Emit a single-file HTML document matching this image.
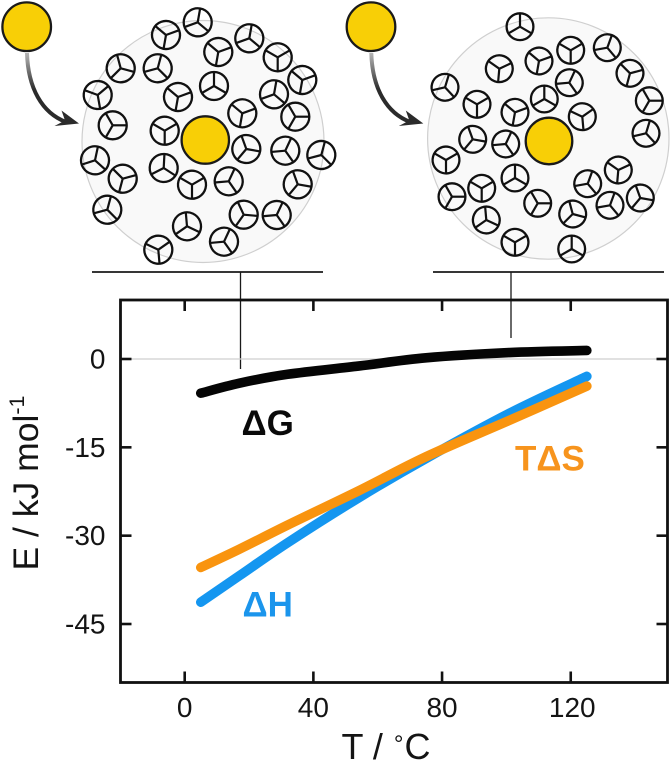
<!DOCTYPE html>
<html lang="en">
<head>
<meta charset="utf-8">
<title>Thermodynamics of binding versus temperature</title>
<style>
html,body{margin:0;padding:0;background:#fff;width:670px;height:761px;overflow:hidden}
svg{display:block}
text{font-family:"Liberation Sans",sans-serif;fill:#141414}
</style>
</head>
<body>
<svg id="fig" width="670" height="761" viewBox="0 0 670 761" xmlns="http://www.w3.org/2000/svg">
  <defs>
    <linearGradient id="arrowFade" gradientUnits="userSpaceOnUse" x1="0" y1="53" x2="0" y2="90">
      <stop offset="0" stop-color="#b5b5b5"/>
      <stop offset="1" stop-color="#2b2b2b"/>
    </linearGradient>
  </defs>
  <g id="diagrams"></g>

  <g stroke="#1a1a1a" fill="none">
    <line x1="92" y1="272" x2="323" y2="272" stroke-width="1.8"/>
    <line x1="240.5" y1="272" x2="240.5" y2="369" stroke-width="1.3"/>
  </g>
  <g stroke="#1a1a1a" fill="none">
    <line x1="433" y1="272" x2="664" y2="272" stroke-width="1.8"/>
    <line x1="511" y1="272" x2="511" y2="338" stroke-width="1.3"/>
  </g>

  <g id="chart"></g>

  <text x="241.5" y="435" font-size="35" font-weight="700" style="fill:#0a0a0a">ΔG</text>
  <text x="242.5" y="616.5" font-size="35" font-weight="700" style="fill:#1b95ec">ΔH</text>
  <text x="515" y="470.5" font-size="35" font-weight="700" style="fill:#f7941d">TΔS</text>

  <text x="341.5" y="759" font-size="36">T / <tspan font-size="24" dx="1" dy="-7">°</tspan><tspan dx="1" dy="7">C</tspan></text>
  <text transform="translate(38,570.5) rotate(-90)" font-size="35.5">E / kJ mol<tspan font-size="21.5" dy="-14">-1</tspan></text>
</svg>

<script>
/* Chart data */
const temperatures = [5, 17, 32, 54, 75, 101, 125];
const deltaG = [-5.8, -4.1, -2.6, -1.2, 0.2, 1.1, 1.45];
const deltaH = [-41.3, -36.8, -31.2, -23.6, -16.9, -9.2, -2.95];
const tDeltaS = [-35.4, -32.3, -28.2, -22.4, -16.6, -10.4, -4.6];
const xTickLabels = [0, 40, 80, 120];
const yTickLabels = [0, -15, -30, -45];

const NS = 'http://www.w3.org/2000/svg';
const frame = {left: 120.5, right: 667.5, top: 300, bottom: 682.5};
function xAxis(t) { return 184.7 + t * 3.217; }
function yAxis(v) { return 359 - v * 5.889; }

function svgEl(tag, attrs, parent) {
  const el = document.createElementNS(NS, tag);
  for (const k in attrs) el.setAttribute(k, attrs[k]);
  parent.appendChild(el);
  return el;
}

const chart = document.getElementById('chart');

const zeroLine = svgEl('line', {x1: frame.left, x2: frame.right, y1: yAxis(0), y2: yAxis(0), stroke: '#cfcfcf', 'stroke-width': 1.2}, chart);



/* Smooth curve through the data points (Catmull-Rom converted to cubic Beziers) */
function smoothPath(values) {
  const p = temperatures.map(function (t, i) { return [xAxis(t), yAxis(values[i])]; });
  let d = 'M' + p[0][0].toFixed(2) + ',' + p[0][1].toFixed(2);
  for (let i = 0; i < p.length - 1; i++) {
    const a = p[Math.max(i - 1, 0)], b = p[i], c = p[i + 1], e = p[Math.min(i + 2, p.length - 1)];
    const c1x = b[0] + (c[0] - a[0]) / 6, c1y = b[1] + (c[1] - a[1]) / 6;
    const c2x = c[0] - (e[0] - b[0]) / 6, c2y = c[1] - (e[1] - b[1]) / 6;
    d += 'C' + c1x.toFixed(2) + ',' + c1y.toFixed(2) + ' ' + c2x.toFixed(2) + ',' + c2y.toFixed(2) + ' ' + c[0].toFixed(2) + ',' + c[1].toFixed(2);
  }
  return d;
}

function drawSeries(name, values, color) {
  const line = svgEl('path', {d: smoothPath(values), fill: 'none', stroke: color, 'stroke-width': 9.6, 'stroke-linecap': 'round', 'stroke-linejoin': 'round'}, chart);
  
  
}
drawSeries('delta-g-line', deltaG, '#050505');
drawSeries('delta-h-line', deltaH, '#1496f0');
drawSeries('t-delta-s-line', tDeltaS, '#f9940f');

const plotFrame = svgEl('rect', {x: frame.left, y: frame.top, width: frame.right - frame.left, height: frame.bottom - frame.top, fill: 'none', stroke: '#111', 'stroke-width': 2.8}, chart);



xTickLabels.forEach(function (t) {
  const x = xAxis(t);
  const bottomTick = svgEl('line', {x1: x, x2: x, y1: frame.bottom, y2: frame.bottom - 11, stroke: '#111', 'stroke-width': 2.6}, chart);
  
  
  const topTick = svgEl('line', {x1: x, x2: x, y1: frame.top, y2: frame.top + 11, stroke: '#111', 'stroke-width': 2.6}, chart);
  
  
  const label = svgEl('text', {x: x + (t >= 100 ? 1.5 : 0), y: 717, 'font-size': 28, 'text-anchor': 'middle'}, chart);
  
  
  label.textContent = t;
});

yTickLabels.forEach(function (v) {
  const y = yAxis(v);
  const leftTick = svgEl('line', {x1: frame.left, x2: frame.left + 11, y1: y, y2: y, stroke: '#111', 'stroke-width': 2.6}, chart);
  
  
  const rightTick = svgEl('line', {x1: frame.right, x2: frame.right - 11, y1: y, y2: y, stroke: '#111', 'stroke-width': 2.6}, chart);
  
  
  const label = svgEl('text', {x: 105.5, y: y + 9.5, 'font-size': 28, 'text-anchor': 'end'}, chart);
  
  
  label.textContent = v;
});

/* Schematic diagrams above the chart: [x, y, rotation] of each three-spoke particle */
const leftParticles = [[593,67,10],[498,105,70],[655,156,70],[748,115,10],[833,172,60],[907,240,70],[822,283,10],[886,350,90],[727,340,70],[642,258,0],[534,291,70],[473,205,15],[362,205,105],[293,285,50],[338,376,90],[494,392,60],[285,481,12],[368,536,75],[491,504,3],[576,554,60],[686,544,25],[739,447,100],[856,452,25],[964,465,15],[893,553,100],[731,644,95],[830,645,25],[672,725,25],[561,679,115],[475,749,55],[322,629,15]];
const rightParticles = [[555,80,0],[707,151,60],[612,183,70],[493,206,65],[817,143,20],[885,220,75],[943,302,90],[933,400,17],[330,262,17],[426,313,60],[540,337,70],[628,297,0],[703,248,25],[742,350,55],[413,418,100],[512,432,25],[333,480,60],[351,590,90],[440,565,60],[540,534,0],[454,660,115],[608,610,90],[540,727,60],[713,642,105],[710,747,0],[758,551,20],[850,510,65],[825,616,20],[916,594,100]];

const diagrams = document.getElementById('diagrams');

function drawParticle(group, x, y, rot, r) {
  const g = svgEl('g', {transform: 'translate(' + x.toFixed(1) + ',' + y.toFixed(1) + ') rotate(' + rot + ')'}, group);
  
  
  svgEl('circle', {r: r, fill: 'none', stroke: '#111', 'stroke-width': 2.3}, g);
  [0, 120, 240].forEach(function (a) {
    svgEl('line', {x1: 0, y1: 0, x2: 0, y2: -r, stroke: '#111', 'stroke-width': 2.2, transform: 'rotate(' + a + ')'}, g);
  });
}

function drawDiagram(name, shellX, shellY, shellR, ballX, ballY, ballR, loose, dx, list, offset, r) {
  const group = svgEl('g', {}, diagrams);
  
  

  const shell = svgEl('circle', {cx: shellX, cy: shellY, r: shellR, fill: '#f9f9f9', stroke: '#cfcfcf', 'stroke-width': 1.2}, group);
  
  

  const arrow = svgEl('g', {transform: 'translate(' + dx + ',0)'}, group);
  
  
  svgEl('path', {d: 'M27,53 C28,88 42,113 66,122', fill: 'none', stroke: 'url(#arrowFade)', 'stroke-width': 4}, arrow);
  svgEl('path', {d: 'M54.5,126 L79,123.5 L61.5,110.5 L65,120.5 Z', fill: '#2b2b2b'}, arrow);

  const free = svgEl('circle', {cx: loose, cy: 26.7, r: 24.3, fill: '#f8cf06', stroke: '#1a1a1a', 'stroke-width': 2.3}, group);
  
  

  list.forEach(function (p) {
    drawParticle(group, p[0] / 3 + offset, p[1] / 3, p[2], r);
  });

  const bound = svgEl('circle', {cx: ballX, cy: ballY, r: ballR, fill: '#f8cf06', stroke: '#1a1a1a', 'stroke-width': 2.3}, group);
  
  
}

drawDiagram('left-diagram', 203, 141.5, 121, 205.3, 140, 23.7, 26.7, 0, leftParticles, 0, 14);
drawDiagram('right-diagram', 548.3, 138.5, 120.7, 549, 141, 23.3, 371, 344.3, rightParticles, 335, 13.4);
</script>
</body>
</html>
